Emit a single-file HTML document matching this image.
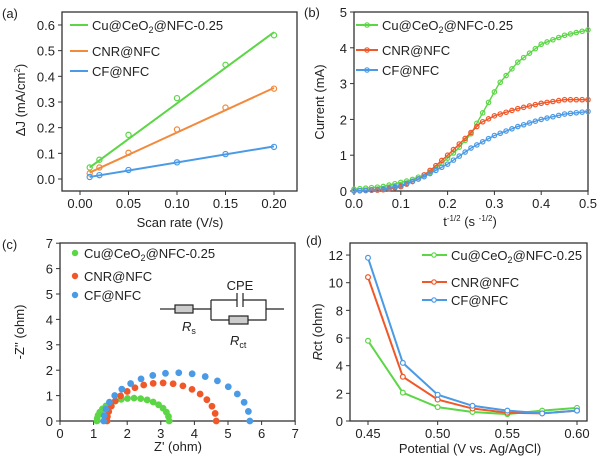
<!DOCTYPE html><html><head><style>body{margin:0;background:#fff}svg{font-family:"Liberation Sans",sans-serif}</style></head><body>
<svg id="s" width="600" height="462" xmlns="http://www.w3.org/2000/svg"></svg>
<script>
const S=document.getElementById('s');let h='';
const G='#5cd646',O='#f28a3c',R='#f0582a',B='#4a9ae6';
function box(l,t,r,b){h+=`<rect x="${l}" y="${t}" width="${r-l}" height="${b-t}" fill="none" stroke="#333" stroke-width="1.3"/>`;}
function txt(x,y,s,o=''){h+=`<text x="${x}" y="${y}" font-size="13" fill="#222" ${o}>${s}</text>`;}
function xt(px,by,lab){h+=`<line x1="${px}" y1="${by}" x2="${px}" y2="${by+4}" stroke="#333"/>`;txt(px,by+17,lab,'text-anchor="middle"');}
function yt(py,lx,lab){h+=`<line x1="${lx}" y1="${py}" x2="${lx-4}" y2="${py}" stroke="#333"/>`;txt(lx-7,py+5,lab,'text-anchor="end"');}
function pl(pts,c,w=1.6){h+=`<polyline points="${pts.map(p=>p.join(',')).join(' ')}" fill="none" stroke="${c}" stroke-width="${w}"/>`;}
function circ(x,y,c,r=2.6,fill='none'){h+=`<circle cx="${x}" cy="${y}" r="${r}" fill="${fill}" stroke="${c}" stroke-width="1.2"/>`;}
// (a)
{const X=v=>80+v/0.05*48.5,Y=v=>179-v/0.1*25.67;box(62,12,297,191);
[0,.05,.1,.15,.2].forEach(v=>xt(X(v),191,v.toFixed(2)));[0,.1,.2,.3,.4,.5,.6].forEach(v=>yt(Y(v),62,v.toFixed(1)));
const xs=[.01,.02,.05,.1,.15,.2];
[[G,[.045,.075,.172,.315,.445,.56],.045,.572],[O,[.022,.045,.102,.193,.278,.352],.025,.355],[B,[.008,.015,.035,.065,.097,.125],.008,.127]].forEach(([c,ys,a,b])=>{pl([[X(.01),Y(a)],[X(.2),Y(b)]],c,2);xs.forEach((x,i)=>circ(X(x),Y(ys[i]),c));});
[[G,25,'Cu@CeO<tspan font-size="9" dy="3">2</tspan><tspan dy="-3">@NFC-0.25</tspan>'],[O,51,'CNR@NFC'],[B,71,'CF@NFC']].forEach(([c,y,s])=>{pl([[70,y],[88,y]],c,2);txt(92,y+5,s);});
txt(2,18,'(a)','font-size="14"');txt(180,227,'Scan rate (V/s)','text-anchor="middle"');
txt(0,0,'ΔJ (mA/cm<tspan font-size="8" dy="-5">2</tspan><tspan dy="5">)</tspan>','transform="translate(25,100) rotate(-90)" text-anchor="middle"');}
// (b)
{const X=v=>354+v/0.5*234,Y=v=>191-v*35.8;box(354,12,588,191);
[0,.1,.2,.3,.4,.5].forEach(v=>xt(X(v),191,v.toFixed(1)));[0,1,2,3,4,5].forEach(v=>yt(Y(v),354,v));
const ip=(k,x)=>{for(let i=0;i<k.length-1;i++)if(x<=k[i+1][0]){const t=(x-k[i][0])/(k[i+1][0]-k[i][0]);return k[i][1]+t*(k[i+1][1]-k[i][1]);}return k[k.length-1][1]};
const kg=[[0,.05],[.06,.12],[.12,.3],[.16,.5],[.19,.8],[.22,1.15],[.25,1.6],[.28,2.3],[.31,3],[.35,3.6],[.4,4.1],[.45,4.35],[.5,4.5]];
const ko=[[0,0],[.06,.03],[.1,.12],[.14,.35],[.17,.65],[.2,1.0],[.24,1.5],[.27,1.9],[.3,2.1],[.35,2.3],[.4,2.45],[.45,2.55],[.5,2.55]];
const kb=[[0,0],[.06,.05],[.1,.15],[.15,.4],[.2,.75],[.25,1.2],[.3,1.55],[.35,1.8],[.4,2.0],[.45,2.15],[.5,2.22]];
[[kg,G],[ko,R],[kb,B]].forEach(([k,c])=>{const p=[];for(let x=0;x<=.5001;x+=.005)p.push([X(x),Y(ip(k,x))]);pl(p,c,1.4);for(let x=0;x<=.5001;x+=.0125)circ(X(x),Y(ip(k,x)),c,2.2);});
[[G,25,'Cu@CeO<tspan font-size="9" dy="3">2</tspan><tspan dy="-3">@NFC-0.25</tspan>'],[R,50,'CNR@NFC'],[B,70,'CF@NFC']].forEach(([c,y,s])=>{pl([[356,y],[378,y]],c,2);circ(367,y,c,2.2);txt(382,y+5,s);});
txt(304,17,'(b)','font-size="14"');txt(470,226,'t<tspan font-size="8" dy="-5">-1/2</tspan><tspan dy="5"> (s </tspan><tspan font-size="8" dy="-5">-1/2</tspan><tspan dy="5">)</tspan>','text-anchor="middle"');
txt(0,0,'Current (mA)','transform="translate(324,102) rotate(-90)" text-anchor="middle"');}
// (c)
{const X=v=>60+v*33.6,Y=v=>421-v*25.4;box(60,243,295,421);
[0,1,2,3,4,5,6,7].forEach(v=>xt(X(v),421,v));[0,1,2,3,4,5,6,7].forEach(v=>yt(Y(v),60,v));
[[G,1.1,3.25,.9],[R,1.4,4.65,1.5],[B,1.3,5.65,1.9]].forEach(([c,a,b,ht])=>{const cx=(a+b)/2,r=(b-a)/2;for(let i=0;i<=18;i++){const t=Math.PI*(i/18)**1.15;const x=cx+r*Math.cos(Math.PI-t),y=ht*Math.sin(t);circ(X(x),Y(y),c,2.8,c);}});
[[G,253,'Cu@CeO<tspan font-size="9" dy="3">2</tspan><tspan dy="-3">@NFC-0.25</tspan>'],[R,276,'CNR@NFC'],[B,295,'CF@NFC']].forEach(([c,y,s])=>{circ(75,y,c,2.6,c);txt(84,y+5,s);});
h+=`<g stroke="#222" stroke-width="1.2" fill="none"><line x1="160" y1="309" x2="175" y2="309"/><rect x="175" y="305" width="18" height="8" fill="#ccc"/><line x1="193" y1="309" x2="211" y2="309"/><path d="M211 300 H237 M243 300 H266 V320 H248 M229 320 H211 Z"/><line x1="211" y1="300" x2="211" y2="320"/><line x1="237" y1="293" x2="237" y2="307"/><line x1="243" y1="293" x2="243" y2="307"/><rect x="229" y="316" width="19" height="8" fill="#ccc"/><line x1="266" y1="309" x2="284" y2="309"/></g>`;
txt(240,290,'CPE','text-anchor="middle"');txt(182,331,'<tspan font-style="italic">R</tspan><tspan font-size="9" dy="3">s</tspan>');txt(230,345,'<tspan font-style="italic">R</tspan><tspan font-size="9" dy="3">ct</tspan>');
txt(2,249,'(c)','font-size="14"');txt(178,451,"Z' (ohm)",'text-anchor="middle"');
txt(0,0,"-Z'' (ohm)",'transform="translate(24,332) rotate(-90)" text-anchor="middle"');}
// (d)
{const X=v=>368+(v-.45)/.15*209,Y=v=>421-v*13.83;box(350,243,587,421);
[.45,.5,.55,.6].forEach(v=>xt(X(v),421,v.toFixed(2)));[0,2,4,6,8,10,12].forEach(v=>yt(Y(v),350,v));
const xs=[.45,.475,.5,.525,.55,.575,.6];
[[G,[5.8,2.05,1.0,.65,.5,.75,.95]],[R,[10.4,3.2,1.55,.9,.6,.55,.75]],[B,[11.8,4.2,1.9,1.1,.75,.55,.75]]].forEach(([c,ys])=>{pl(xs.map((x,i)=>[X(x),Y(ys[i])]),c,2);xs.forEach((x,i)=>circ(X(x),Y(ys[i]),c,2.4,'#fff'));});
[[G,255,'Cu@CeO<tspan font-size="9" dy="3">2</tspan><tspan dy="-3">@NFC-0.25</tspan>'],[R,282,'CNR@NFC'],[B,300,'CF@NFC']].forEach(([c,y,s])=>{pl([[422,y],[447,y]],c,2);circ(434,y,c,2.2,'#fff');txt(451,y+5,s);});
txt(306,245,'(d)','font-size="14"');txt(470,453,'Potential (V vs. Ag/AgCl)','text-anchor="middle"');
txt(0,0,'<tspan font-style="italic">R</tspan>ct (ohm)','transform="translate(322,332) rotate(-90)" text-anchor="middle"');}
S.innerHTML=h;
</script></body></html>
